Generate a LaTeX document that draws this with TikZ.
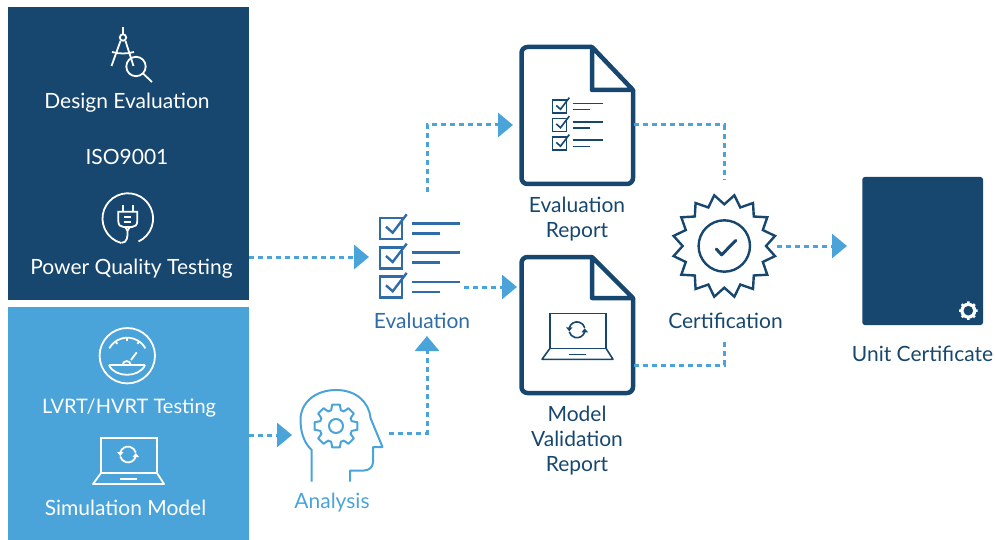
\documentclass[tikz,border=0pt]{standalone}
\usepackage{fontspec}
\setmainfont{Lato}
\usetikzlibrary{arrows.meta,positioning}
\definecolor{navyblue}{HTML}{17476F}
\definecolor{skyblue}{HTML}{4AA4D9}
\definecolor{midblue}{HTML}{2F6CA8}
\tikzset{
  lbl/.style={inner sep=0pt,font=\fontsize{21pt}{25.4pt}\selectfont,align=center},
  flow/.style={skyblue,line width=3pt,dash pattern=on 4.6pt off 4.4pt,
    -{Triangle[length=15pt,width=24pt]}},
  flowend/.style={skyblue,line width=3pt,dash pattern=on 4.6pt off 4.4pt},
  doc/.style={navyblue,line width=4.5pt,line join=round,fill=white},
  pics/chklist/.style={code={
    \foreach \r in {0,1,2} {
      \begin{scope}[yshift=-29.3*\r pt]
        \draw (0,0) rectangle (22,21);
        \draw (6,8.7) -- (12.7,14.7) -- (26.7,-3.7);
        \draw (32,5.3) -- (79.5,5.3);
        \draw (32,15.3) -- (60,15.3);
      \end{scope}
    }
  }},
  pics/laptop/.style={code={
    \draw (101,438) rectangle (157,473);
    \draw[line join=round] (101,473) -- (93,484) -- (164,484) -- (157,473);
    \draw (120,479) -- (137,479);
    \draw (120.3,452.5) arc (195:345:8);
    \draw (135.7,456.5) arc (15:165:8);
    \fill (117,452) -- (123.5,452) -- (120.3,456) -- cycle;
    \fill (132.5,457) -- (139,457) -- (135.7,453) -- cycle;
  }},
  pics/cog/.style={code={
    \draw[line join=round] (-17:16.5)
      \foreach \a in {0,45,...,315} {
        -- (\a-10:21.7) -- (\a+10:21.7) -- (\a+17:16.5) -- (\a+28:16.5)
      } -- cycle;
    \draw (0,0) circle (7);
  }}
}
\begin{document}
\begin{tikzpicture}[x=1pt,y=-1pt,line cap=butt]
\useasboundingbox (0,0) rectangle (995,540);
\fill[navyblue] (8,7) rectangle (249,300);
\fill[skyblue] (8,307) rectangle (249,540);

% design evaluation icon
\begin{scope}[white,line width=1.8pt]
\draw (122.7,27.5) -- (122.7,34);
\draw (123,37.5) circle (3.2);
\draw (120.5,41) -- (111.5,66);
\draw (125.5,41) -- (133.5,66);
\draw (112,52) .. controls (119,54) and (127,54) .. (134,52);
\draw (136,66.5) circle (9.7);
\draw (143,73.5) -- (152,82);
% plug icon
\draw (138.5,241.5) arc (65:-255:25.3);
\draw (121.5,242.8) .. controls (127,243) and (128,237) .. (127.5,230);
\draw (118.3,211.7) -- (137.3,211.7) -- (137.3,221) .. controls (137.3,225) and (135,227) .. (132,227)
  -- (123.5,227) .. controls (120.5,227) and (118.3,225) .. (118.3,221) -- cycle;
\draw (122.7,205) -- (122.7,211.7);
\draw (132.7,205) -- (132.7,211.7);
\draw (124,217) -- (131.3,217);
\draw (124,222.3) -- (131.3,222.3);
\draw (125,227) -- (127.5,230.5) -- (130,227);
% gauge icon
\draw (127.3,355.7) circle (27.7);
\draw (109,365) -- (145,365);
\draw (109,365) .. controls (112,372) and (120,374.8) .. (127,374.8) .. controls (134,374.8) and (142,372) .. (145,365);
\draw (122.7,365) arc (180:360:4);
\draw (131,360) -- (136.7,352.3);
\foreach \a in {235,270,305} {
  \draw (127.3,358.3) ++(\a:20.6) -- ++(\a:-3);
}
\draw (127.3,358.3) ++(209:20.6) arc (209:331:20.6);
\end{scope}
\pic[white,line width=1.8pt] at (0,0) {laptop};

% head with cog
\draw[skyblue,line width=2pt,line join=round] (311.7,481.5) -- (311.7,450)
  .. controls (303,442) and (300.5,430) .. (300.5,420)
  .. controls (300.5,402) and (316,390) .. (336,390)
  .. controls (356,390) and (369,402) .. (370.5,418)
  -- (382.5,447) -- (373,447) -- (373,462)
  .. controls (373,467) and (369,470.5) .. (364,470.5)
  -- (350,470.5) -- (350,481.5);
\pic[skyblue,line width=2pt] at (336,426) {cog};

% documents
\draw[doc,rounded corners=6pt] (592,47) -- (521.5,47) -- (521.5,184) -- (633,184) -- (633,90);
\draw[doc] (592,47) -- (633,90) -- (592,90) -- cycle;
\draw[doc,rounded corners=6pt] (592,257) -- (521.5,257) -- (521.5,393) -- (633,393) -- (633,298);
\draw[doc] (592,257) -- (633,298) -- (592,298) -- cycle;
\pic[navyblue,line width=1.6pt] at (449,-124.7) {laptop};

% checklists
\pic[midblue,line width=2.4pt] at (380,218) {chklist};
\pic[navyblue,line width=1.6pt,scale=0.63] at (552.5,100) {chklist};

% certification seal
\begin{scope}[shift={(724.3,246)},navyblue,line width=2.4pt,line join=miter]
\draw (0:41.7) \foreach \a in {0,22.5,...,337.5} {
    -- (\a+11.25:51.7) -- (\a+22.5:41.7)
  } -- cycle;
\draw (0,0) circle (25.7);
\draw[line width=3pt,line cap=round,line join=round] (-8,3) -- (-2.7,8.8) -- (11.5,-5.5);
\end{scope}

% unit certificate
\fill[navyblue,rounded corners=2.5pt] (862.3,177) rectangle (983,325);
\begin{scope}[shift={(968.3,310.7)}]
\fill[white] (0,0) circle (8);
\foreach \a in {0,45,...,315} {
  \fill[white] (\a-10:7) -- (\a-8:9.3) -- (\a+8:9.3) -- (\a+10:7) -- cycle;
}
\fill[navyblue] (0,0) circle (4.8);
\end{scope}

% labels
\node[lbl,white] (design) at (127,102.5) {Design Evaluation};
\node[lbl,white] (iso) at (127,157) {ISO9001};
\node[lbl,white] (power) at (131.5,268.5) {Power Quality Testing};
\node[lbl,white,font=\fontsize{20pt}{25pt}\selectfont] (lvrt) at (129,408) {LVRT/HVRT Testing};
\node[lbl,white] (sim) at (125.5,508) {Simulation Model};
\node[lbl,skyblue] (analysis) at (332,502.5) {Analysis};
\node[lbl,midblue] (evaluation) at (422,321) {Evaluation};
\node[lbl,navyblue] (evalrep) at (577,219) {Evaluation\\Report};
\node[lbl,navyblue] (modelrep) at (577,440.5) {Model\\Validation\\Report};
\node[lbl,navyblue] (cert) at (725.5,321) {Certification};
\node[lbl,navyblue] (unit) at (922.5,354) {Unit Certificate};

% connector ends
\coordinate (powerout) at (249,257);
\coordinate (evalin) at (369,257);
\coordinate (simout) at (249,435);
\coordinate (headin) at (292,435);
\coordinate (headout) at (389,433);
\coordinate (evalbot) at (427,336);
\coordinate (evaltop) at (427,192);
\coordinate (rep1in) at (513,125);
\coordinate (evalout) at (464,287);
\coordinate (rep2in) at (517,287);
\coordinate (rep1out) at (634,125);
\coordinate (sealtop) at (724,180);
\coordinate (rep2out) at (634,365);
\coordinate (sealbot) at (724,340);
\coordinate (sealout) at (777,246);
\coordinate (unitin) at (847,246);

\draw[flow] (powerout) -- (evalin);
\draw[flow] (simout) -- (headin);
\draw[flow] (headout) -| (evalbot);
\draw[flow] (evaltop) |- (rep1in);
\draw[flow] (evalout) -- (rep2in);
\draw[flowend] (rep1out) -| (sealtop);
\draw[flowend] (rep2out) -| (sealbot);
\draw[flow] (sealout) -- (unitin);
\end{tikzpicture}
\end{document}
